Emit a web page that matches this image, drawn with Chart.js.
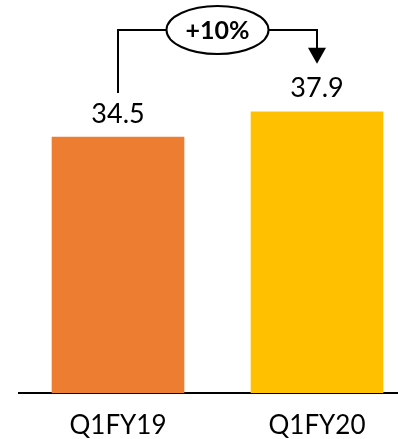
<!DOCTYPE html>
<html>
<head>
<meta charset="utf-8">
<script src="https://cdn.jsdelivr.net/npm/chart.js@4/dist/chart.umd.min.js"></script>
<style>
  html, body { margin: 0; padding: 0; background: #fff; }
  #wrap { width: 398px; height: 439px; }
</style>
</head>
<body>
<div id="wrap"><canvas id="c"></canvas></div>
<script>
// Quarterly figures
const categories = ['Q1FY19', 'Q1FY20'];
const values = [34.5, 37.9];
const barColors = ['#ED7D31', '#FFC000'];
const growthLabel = '+10%';

const FONT = 'Lato, "Liberation Sans", sans-serif';

// Value labels above each bar
const valueLabels = {
  id: 'valueLabels',
  afterDatasetsDraw(chart) {
    const ctx = chart.ctx;
    const meta = chart.getDatasetMeta(0);
    ctx.save();
    ctx.font = '27px ' + FONT;
    ctx.fillStyle = '#000';
    ctx.textAlign = 'center';
    ctx.textBaseline = 'middle';
    meta.data.forEach((bar, i) => {
      ctx.fillText(values[i].toFixed(1), bar.x, bar.y - 23);
    });
    ctx.restore();
  }
};

// Growth connector: elbow line from the first bar to an arrow over the second
const growthArrow = {
  id: 'growthArrow',
  afterDatasetsDraw(chart) {
    const ctx = chart.ctx;
    const meta = chart.getDatasetMeta(0);
    const a = meta.data[0], b = meta.data[1];
    const topY = chart.chartArea.top + 8;
    const startY = a.y - 44;
    const tipY = b.y - 48;
    const cx = (a.x + b.x) / 2;
    const rx = 51, ry = 24;

    ctx.save();
    ctx.strokeStyle = '#000';
    ctx.fillStyle = '#000';
    ctx.lineWidth = 2;

    ctx.beginPath();
    ctx.moveTo(a.x, startY);
    ctx.lineTo(a.x, topY);
    ctx.lineTo(cx - rx, topY);
    ctx.moveTo(cx + rx, topY);
    ctx.lineTo(b.x, topY);
    ctx.lineTo(b.x, tipY - 14);
    ctx.stroke();

    ctx.beginPath();
    ctx.moveTo(b.x - 9, tipY - 16);
    ctx.lineTo(b.x + 9, tipY - 16);
    ctx.lineTo(b.x, tipY);
    ctx.closePath();
    ctx.fill();

    ctx.beginPath();
    ctx.ellipse(cx, topY, rx, ry, 0, 0, Math.PI * 2);
    ctx.fillStyle = '#fff';
    ctx.fill();
    ctx.stroke();

    ctx.fillStyle = '#000';
    ctx.font = 'bold 25px ' + FONT;
    ctx.textAlign = 'center';
    ctx.textBaseline = 'middle';
    ctx.fillText(growthLabel, cx, topY + 1);
    ctx.restore();
  }
};

new Chart(document.getElementById('c'), {
  type: 'bar',
  data: {
    datasets: [{
      data: values.map((v, i) => ({ x: i, y: v })),
      backgroundColor: barColors,
      barThickness: 132,
      borderWidth: 0
    }]
  },
  options: {
    responsive: true,
    maintainAspectRatio: false,
    animation: false,
    layout: { padding: { left: 19, right: 0, top: 22, bottom: 0 } },
    plugins: { legend: { display: false }, tooltip: { enabled: false } },
    scales: {
      x: {
        type: 'linear',
        offset: false,
        bounds: 'data',
        min: -0.4975,
        max: 1.407,
        grid: { display: false, drawTicks: false, offset: false },
        border: { display: true, color: '#000', width: 2 },
        afterBuildTicks(scale) {
          scale.ticks = categories.map((_, i) => ({ value: i }));
        },
        afterFit(scale) { scale.height = 46; },
        ticks: {
          autoSkip: false,
          maxRotation: 0,
          padding: 17,
          color: '#000',
          font: { family: FONT, size: 26 },
          callback: (v) => categories[v] ?? ''
        }
      },
      y: {
        display: false,
        min: 0,
        max: 50
      }
    }
  },
  plugins: [valueLabels, growthArrow]
});
</script>
</body>
</html>
